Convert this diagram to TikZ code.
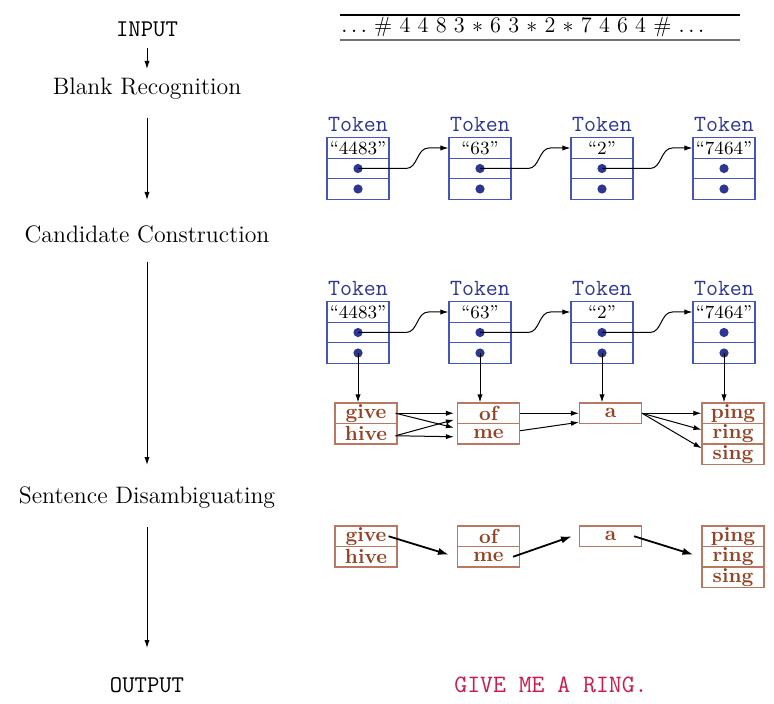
\documentclass[tikz,border=0pt]{standalone}
\usetikzlibrary{arrows.meta,calc}
\definecolor{tokblue}{RGB}{45,55,145}
\definecolor{tokline}{RGB}{70,85,185}
\definecolor{wordbrown}{RGB}{150,65,35}
\definecolor{wordline}{RGB}{185,120,100}
\definecolor{outred}{RGB}{205,25,75}
\begin{document}
\begin{tikzpicture}[x=0.5pt,y=-0.5pt,
  cell/.style={draw=tokline, line width=0.55pt, minimum width=31pt, minimum height=10.25pt, inner sep=0pt, font=\fontsize{9.3}{10}\selectfont},
  tokdot/.style={circle, fill=tokblue, inner sep=0pt, minimum size=4.6pt},
  toklabel/.style={font=\ttfamily\fontsize{11.6}{12}\selectfont, text=tokblue, anchor=base, inner sep=0pt},
  wcell/.style={draw=wordline, line width=0.55pt, minimum width=31pt, minimum height=10.25pt, inner sep=0pt, font=\bfseries\fontsize{10.2}{10}\selectfont, text=wordbrown},
  stage/.style={font=\fontsize{11.9}{14}\selectfont, anchor=base, inner sep=0pt},
  ttlabel/.style={font=\ttfamily\fontsize{12}{14}\selectfont, anchor=base, inner sep=0pt},
  flow/.style={-{Latex[length=4pt,width=2.6pt]}, line width=0.5pt},
  sel/.style={-{Latex[length=5.5pt,width=3.6pt]}, line width=0.9pt}
]
\useasboundingbox (0,0) rectangle (774,704);

% left column
\node[ttlabel] (in) at (147,37) {INPUT};
\node[stage] (s1) at (147,95) {Blank Recognition};
\node[stage] (s2) at (147,243) {Candidate Construction};
\node[stage] (s3) at (147,503) {Sentence Disambiguating};
\node[ttlabel] (out) at (147,692) {OUTPUT};
\coordinate (a0s) at (147,48); \coordinate (a0e) at (147,69);
\coordinate (a1s) at (147,118); \coordinate (a1e) at (147,200);
\coordinate (a2s) at (147,262); \coordinate (a2e) at (147,465);
\coordinate (a3s) at (147,527); \coordinate (a3e) at (147,648);
\draw[flow] (a0s) -- (a0e);
\draw[flow] (a1s) -- (a1e);
\draw[flow] (a2s) -- (a2e);
\draw[flow] (a3s) -- (a3e);

% input tape
\coordinate (tpl) at (340,15); \coordinate (tpr) at (740,15);
\coordinate (tbl) at (340,40); \coordinate (tbr) at (740,40);
\draw[line width=0.6pt] (tpl) -- (tpr);
\draw[line width=0.6pt, black!55] (tbl) -- (tbr);
\node[anchor=base west, inner sep=0pt, font=\fontsize{11.1}{14}\selectfont] (tape) at (341,33)
  {$\ldots$ \# 4 4 8 3 $*$ 6 3 $*$ 2 $*$ 7 4 6 4 \# $\ldots$};

% token rows
\foreach \r/\yt in {A/148,B/312} {
  \foreach \i/\x/\txt in {1/358/{``4483''},2/480/{``63''},3/602/{``2''},4/724/{``7464''}} {
    \node[cell] (\r\i-a) at (\x,\yt) {\txt};
    \node[cell] (\r\i-b) at (\x,\yt+20.5) {};
    \node[cell] (\r\i-c) at (\x,\yt+41) {};
    \node[tokdot] (\r\i-bd) at (\r\i-b) {};
    \node[tokdot] (\r\i-cd) at (\r\i-c) {};
    \node[toklabel] (\r\i-l) at (\x,\yt-16) {Token};
  }
  \foreach \i/\j in {1/2,2/3,3/4} {
    \draw[flow] (\r\i-bd.center) -- ++(48,0) to[out=0,in=180] ($(\r\j-a.west)+(-20,0)$) -- (\r\j-a.west);
  }
}

% candidate words (row 2)
\node[wcell] (G2a) at (366,413.25) {give};
\node[wcell] (G2b) at (366,433.75) {hive};
\node[wcell] (O2a) at (488.5,413.25) {of};
\node[wcell] (O2b) at (488.5,433.75) {me};
\node[wcell] (C2) at (610.5,413.25) {a};
\node[wcell] (P2a) at (733,413.25) {ping};
\node[wcell] (P2b) at (733,433.75) {ring};
\node[wcell] (P2c) at (733,454.25) {sing};

\draw[flow] (B1-cd.center) -- (B1-cd.center |- G2a.north);
\draw[flow] (B2-cd.center) -- (B2-cd.center |- O2a.north);
\draw[flow] (B3-cd.center) -- (B3-cd.center |- C2.north);
\draw[flow] (B4-cd.center) -- (B4-cd.center |- P2a.north);

\draw[flow] ($(G2a.east)+(-2,0)$) -- ($(O2a.west)+(-3,0)$);
\draw[flow] ($(G2a.east)+(-2,0)$) -- ($(O2b.west)+(-3,-6)$);
\draw[flow] ($(G2b.east)+(-2,2)$) -- ($(O2a.west)+(-3,6.5)$);
\draw[flow] ($(G2b.east)+(-2,2)$) -- ($(O2b.west)+(-3,3)$);
\draw[flow] (O2a.east) -- (C2.west);
\draw[flow] ($(O2b.east)+(0,-3)$) -- ($(C2.west)+(0,9)$);
\draw[flow] (C2.east) -- (P2a.west);
\draw[flow] (C2.east) -- ($(P2b.west)+(0,-4)$);
\draw[flow] (C2.east) -- ($(P2c.west)+(0,-6)$);

% disambiguated sentence (row 3)
\node[wcell] (G3a) at (366,536.25) {give};
\node[wcell] (G3b) at (366,556.75) {hive};
\node[wcell] (O3a) at (488.5,536.25) {of};
\node[wcell] (O3b) at (488.5,556.75) {me};
\node[wcell] (C3) at (610.5,536.25) {a};
\node[wcell] (P3a) at (733,536.25) {ping};
\node[wcell] (P3b) at (733,556.75) {ring};
\node[wcell] (P3c) at (733,577.25) {sing};

\draw[sel] ($(G3a.east)+(-9,0)$) -- ($(O3b.west)+(-8,-2)$);
\draw[sel] ($(O3b.east)+(-7,0)$) -- ($(C3.west)+(-7,0)$);
\draw[sel] ($(C3.east)+(-8,0)$) -- ($(P3b.west)+(-8,-2)$);

% output
\node[ttlabel, text=outred, font=\ttfamily\fontsize{12.5}{14}\selectfont] (res) at (551,692) {GIVE ME A RING.};
\end{tikzpicture}
\end{document}
